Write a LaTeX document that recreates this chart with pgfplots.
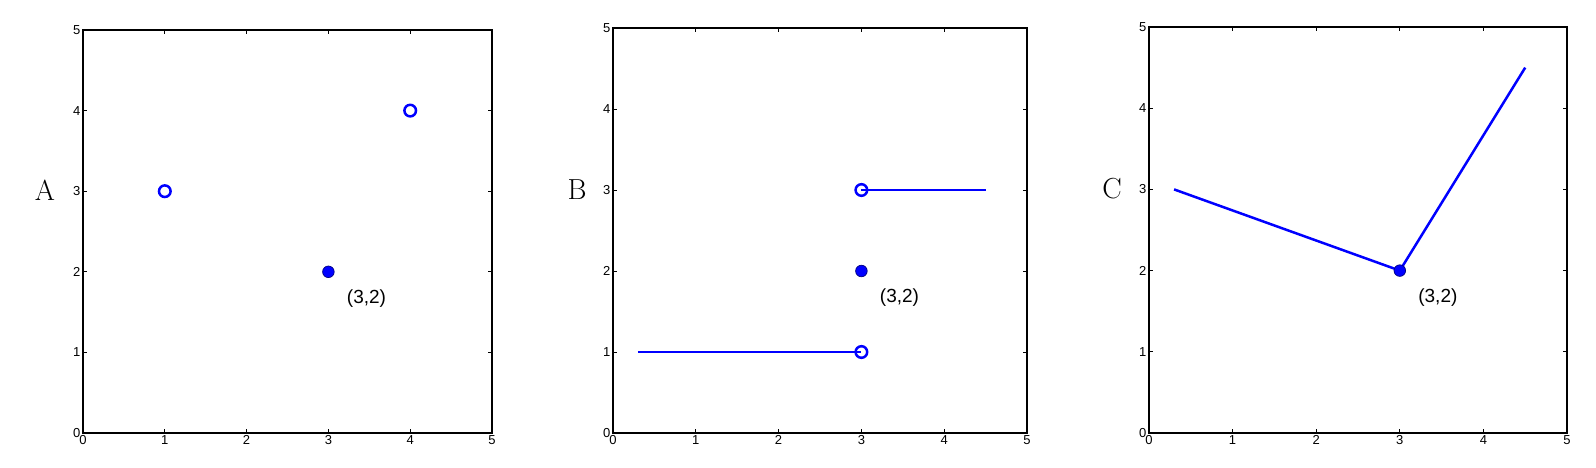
\documentclass[border=0pt]{standalone}
\usepackage{pgfplots}
\pgfplotsset{compat=1.18}
\usepackage{fontspec}
\setsansfont{Liberation Sans}

\definecolor{mblue}{RGB}{0,0,255}

\pgfplotsset{
  panel/.style={
    scale only axis, anchor=south west, clip=false,
    xmin=0, xmax=5, ymin=0, ymax=5,
    xtick={0,1,2,3,4,5}, ytick={0,1,2,3,4,5},
    tick align=inside, major tick length=4pt,
    axis line style={line width=1.3pt},
    every tick/.style={black, line width=0.8pt},
    tick label style={font=\fontsize{13}{15}\sffamily},
    /pgf/number format/assume math mode=true,
    xticklabel style={yshift=1pt},
    yticklabel style={xshift=1pt},
  },
  open/.style={mblue, line width=2.5pt, mark=o, mark size=5.8pt, mark options={fill=white, line width=2.5pt}},
  dot/.style={only marks, mark=*, mark size=5.8pt, mark options={fill=mblue, draw=mblue!50!black, line width=0.7pt}},
}

\begin{document}
\begin{tikzpicture}
\path (0pt,0pt) rectangle (1596pt,467pt);

% panel A
\node[font=\fontsize{29}{32}\selectfont] at (45pt,277pt) {A};
\begin{axis}[panel, at={(83pt,34pt)}, width=409pt, height=403pt]
\addplot[open, only marks] coordinates {(1,3) (4,4)};
\addplot[dot] coordinates {(3,2)};
\node[font=\fontsize{19}{22}\sffamily, anchor=west] at (axis cs:3,2) [xshift=15pt, yshift=-27pt] {(3,2)};
\end{axis}

% panel B
\node[font=\fontsize{29}{32}\selectfont] at (577pt,277pt) {B};
\begin{axis}[panel, at={(613pt,34pt)}, width=414pt, height=405pt]
\addplot[mblue, line width=2.5pt] coordinates {(0.3,1) (3,1)};
\addplot[mblue, line width=2.5pt] coordinates {(3,3) (4.5,3)};
\addplot[open, only marks] coordinates {(3,1) (3,3)};
\addplot[dot] coordinates {(3,2)};
\node[font=\fontsize{19}{22}\sffamily, anchor=west] at (axis cs:3,2) [xshift=15pt, yshift=-27pt] {(3,2)};
\end{axis}

% panel C
\node[font=\fontsize{29}{32}\selectfont] at (1112pt,278pt) {C};
\begin{axis}[panel, at={(1149pt,34pt)}, width=418pt, height=406pt]
\addplot[mblue, line width=2.5pt] coordinates {(0.3,3) (3,2) (4.5,4.5)};
\addplot[dot] coordinates {(3,2)};
\node[font=\fontsize{19}{22}\sffamily, anchor=west] at (axis cs:3,2) [xshift=15pt, yshift=-27pt] {(3,2)};
\end{axis}
\end{tikzpicture}
\end{document}
